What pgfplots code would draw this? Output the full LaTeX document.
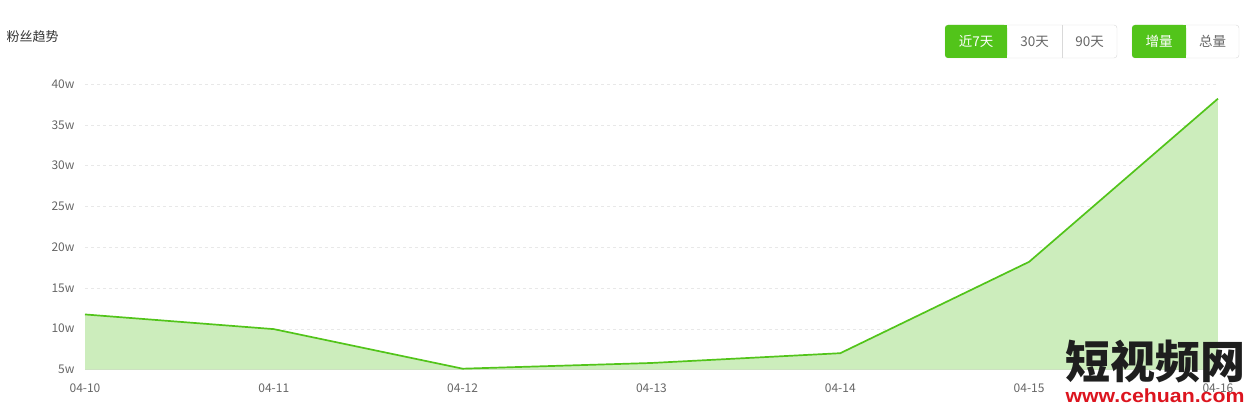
\documentclass[border=0pt]{standalone}
\usepackage{pgfplots}
\pgfplotsset{compat=1.18}
\usepackage{fontspec}
\setmainfont{Noto Sans CJK SC}
\newfontfamily\wmfont{Liberation Sans}
\definecolor{lgreen}{RGB}{82,196,26}
\definecolor{lfill}{RGB}{204,237,188}
\definecolor{gridc}{RGB}{232,232,232}
\definecolor{axc}{RGB}{204,204,204}
\definecolor{tickc}{RGB}{102,102,102}
\definecolor{titc}{RGB}{51,51,51}
\definecolor{bord}{RGB}{217,217,217}
\definecolor{wmred}{RGB}{220,20,30}
\definecolor{wmblack}{RGB}{30,30,30}
\begin{document}
\begin{tikzpicture}[x=1bp,y=1bp]
\path[use as bounding box] (0,0) rectangle (1253,413);
\begin{axis}[
  at={(85bp,43.5bp)}, anchor=south west,
  scale only axis, width=1133bp, height=285.5bp,
  xmin=0, xmax=6, ymin=5, ymax=40,
  axis lines*=left,
  x axis line style={draw=axc},
  y axis line style={draw=none},
  major tick length=0pt,
  xtick={0,...,6},
  xticklabels={04-10,04-11,04-12,04-13,04-14,04-15,04-16},
  ytick={5,10,...,40},
  yticklabel={\pgfmathprintnumber{\tick}w},
  ymajorgrids,
  grid style={gridc, dash pattern=on 3bp off 3bp},
  /pgf/number format/assume math mode=true,
  tick label style={font=\fontsize{12bp}{14bp}\selectfont, text=tickc},
  xticklabel style={yshift=-11bp},
  yticklabel style={xshift=-7bp},
  clip=false,
]
\addplot[fill=lfill, draw=none] coordinates {(0,11.75) (1,9.95) (2,5.1) (3,5.8) (4,7.0) (5,18.2) (6,38.2)} \closedcycle;
\addplot[lgreen, line width=1.7bp, mark=none] coordinates {(0,11.75) (1,9.95) (2,5.1) (3,5.8) (4,7.0) (5,18.2) (6,38.2)};
\end{axis}
% title
\node[anchor=west, text=titc, font=\fontsize{13bp}{15bp}\selectfont] at (3,376) {粉丝趋势};
% buttons group 1
\draw[bord, rounded corners=3bp] (945,355) rectangle (1117,388);
\fill[lgreen, rounded corners=3bp] (945,355) rectangle (1007,388);
\fill[lgreen] (1000,355) rectangle (1007,388);
\draw[bord] (1062,355) -- (1062,388);
\node[text=white, font=\fontsize{13.5bp}{15bp}\selectfont] at (976,371.5) {近7天};
\node[text=tickc, font=\fontsize{13.5bp}{15bp}\selectfont] at (1034.5,371.5) {30天};
\node[text=tickc, font=\fontsize{13.5bp}{15bp}\selectfont] at (1089.5,371.5) {90天};
% buttons group 2
\draw[bord, rounded corners=3bp] (1132,355) rectangle (1239,388);
\fill[lgreen, rounded corners=3bp] (1132,355) rectangle (1186,388);
\fill[lgreen] (1180,355) rectangle (1186,388);
\node[text=white, font=\fontsize{13.5bp}{15bp}\selectfont] at (1159,371.5) {增量};
\node[text=tickc, font=\fontsize{13.5bp}{15bp}\selectfont] at (1212.5,371.5) {总量};
% watermark
\node[text=wmblack, font=\bfseries\fontsize{45bp}{47bp}\selectfont, inner sep=0pt] at (1155,51) {短视频网};
\node[text=wmred, font=\wmfont\bfseries\fontsize{19bp}{20bp}\selectfont, inner sep=0pt, xscale=1.12] at (1155,17) {www.cehuan.com};
\end{tikzpicture}
\end{document}
